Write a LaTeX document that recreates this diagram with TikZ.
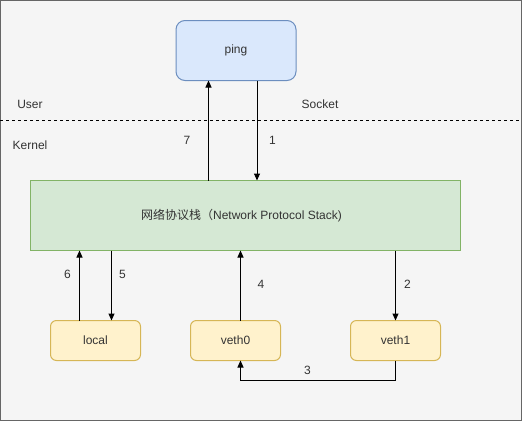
\documentclass[tikz,border=0pt]{standalone}
\usepackage{fontspec}
\setmainfont{Liberation Sans}
\newfontfamily\cjk{Noto Sans CJK SC}
\usetikzlibrary{arrows.meta}
\definecolor{bgfill}{HTML}{F5F5F5}
\definecolor{bgline}{HTML}{666666}
\definecolor{bluefill}{HTML}{DAE8FC}
\definecolor{blueline}{HTML}{6C8EBF}
\definecolor{greenfill}{HTML}{D5E8D4}
\definecolor{greenline}{HTML}{82B366}
\definecolor{yelfill}{HTML}{FFF2CC}
\definecolor{yelline}{HTML}{D6B656}
\definecolor{txt}{HTML}{333333}
\begin{document}
\begin{tikzpicture}[x=1pt,y=-1pt,
  every node/.style={font=\fontsize{12}{14}\selectfont, text=txt},
  bluebox/.style={draw=blueline, fill=bluefill, rounded corners=9pt, line width=1pt},
  greenbox/.style={draw=greenline, fill=greenfill, line width=1pt},
  yelbox/.style={draw=yelline, fill=yelfill, rounded corners=6pt, line width=1pt},
  conn/.style={draw=black, line width=1pt, -{Triangle[length=7pt,width=6pt]}},
  lbl/.style={inner sep=0pt, font=\fontsize{12}{14}\selectfont}
]
\useasboundingbox (0,0) rectangle (522,421);
\draw[fill=bgfill, draw=bgline, line width=1pt] (0.5,0.5) rectangle (521.5,420.5);
\draw[dashed, line width=1pt, dash pattern=on 3pt off 3pt] (0,120.5) -- (522,120.5);
\node[lbl] (user) at (30,104) {User};
\node[lbl] (socket) at (320,104) {Socket};
\node[lbl] (kernel) at (30,145) {Kernel};

\path[bluebox] (176,20.5) rectangle (296,80.5);
\node (ping) at (236,50.5) {ping};
\coordinate (pingb7) at (208.5,80.5);
\coordinate (pingb1) at (257,80.5);

\path[greenbox] (30.5,180.5) rectangle (460.5,250.5);
\node (stack) at (241.5,215.5) {{\cjk 网络协议栈}{\cjk（}Network Protocol Stack)};
\coordinate (st7) at (208.5,180.5);
\coordinate (st1) at (257,180.5);
\coordinate (st6) at (79.5,250.5);
\coordinate (st5) at (111.5,250.5);
\coordinate (st4) at (240.5,250.5);
\coordinate (st2) at (395.5,250.5);

\path[yelbox] (50.5,320.5) rectangle (140.5,360.5);
\node (local) at (95.5,340.5) {local};
\path[yelbox] (190.5,320.5) rectangle (280.5,360.5);
\node (veth0) at (235.5,340.5) {veth0};
\path[yelbox] (350.5,320.5) rectangle (440.5,360.5);
\node (veth1) at (395.5,340.5) {veth1};
\coordinate (lo6) at (79.5,320.5);
\coordinate (lo5) at (111.5,320.5);
\coordinate (v0t) at (240.5,320.5);
\coordinate (v0b) at (240.5,360.5);
\coordinate (v1t) at (395.5,320.5);
\coordinate (v1b) at (395.5,360.5);

\draw[conn] (st7) -- (pingb7);
\draw[conn] (pingb1) -- (st1);
\draw[conn] (lo6) -- (st6);
\draw[conn] (st5) -- (lo5);
\draw[conn] (v0t) -- (st4);
\draw[conn] (st2) -- (v1t);
\draw[conn] (v1b) -- (395.5,380.5) -| (v0b);

\node[lbl] (l7) at (187,140) {7};
\node[lbl] (l1) at (272.5,140) {1};
\node[lbl] (l6) at (67.5,274) {6};
\node[lbl] (l5) at (122.5,274) {5};
\node[lbl] (l4) at (261,284) {4};
\node[lbl] (l2) at (407.5,284) {2};
\node[lbl] (l3) at (307.5,370) {3};
\end{tikzpicture}
\end{document}
